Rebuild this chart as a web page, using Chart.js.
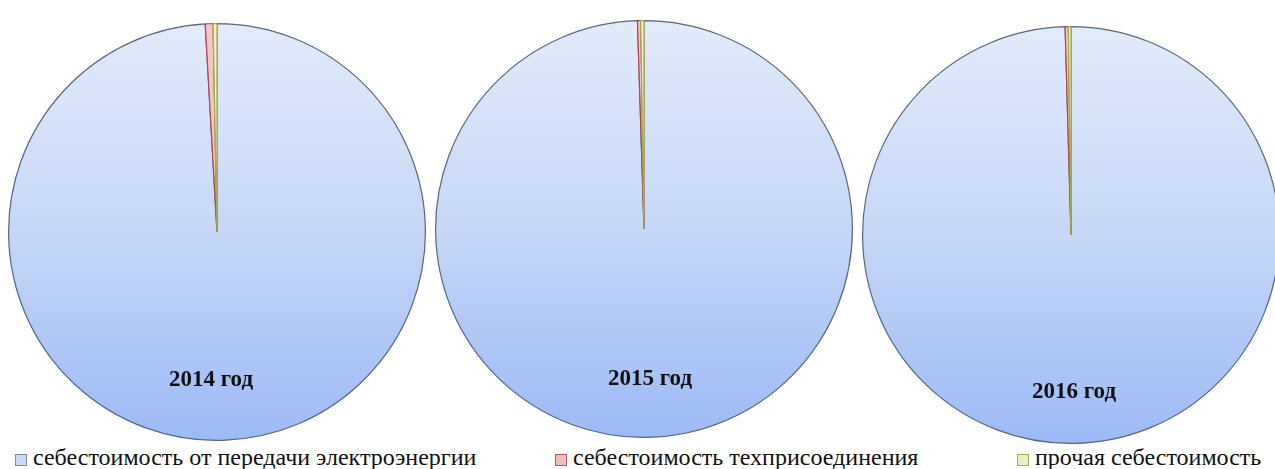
<!DOCTYPE html>
<html>
<head>
<meta charset="utf-8">
<script src="https://cdn.jsdelivr.net/npm/chart.js@4/dist/chart.umd.min.js"></script>
<style>
  html, body { margin:0; padding:0; background:#fff; width:1275px; height:469px; overflow:hidden; position:relative; }
  .pie { position:absolute; width:418px; height:418px; }
  .year { position:absolute; font-family:"Liberation Serif","Times New Roman",serif; font-weight:bold; font-size:23px; color:#111; transform:translate(-50%,-50%); white-space:nowrap; }
  .leg { position:absolute; top:444px; font-family:"Liberation Serif","Times New Roman",serif; font-size:24px; color:#111; white-space:nowrap; display:flex; align-items:center; }
  .leg i { display:inline-block; width:10px; height:10px; margin-right:6px; margin-top:5px; }
</style>
</head>
<body>
<div class="pie" id="p0" style="left:8px;top:23px;"><canvas id="c0"></canvas></div>
<div class="pie" id="p1" style="left:435px;top:20px;"><canvas id="c1"></canvas></div>
<div class="pie" id="p2" style="left:862px;top:26px;"><canvas id="c2"></canvas></div>
<div id="labels"></div>
<div id="legend"></div>
<script>
const categories = ["себестоимость от передачи электроэнергии", "себестоимость техприсоединения", "прочая себестоимость"];
const years = ["2014 год", "2015 год", "2016 год"];
const values2014 = [99.1, 0.6, 0.3];
const values2015 = [99.5, 0.25, 0.25];
const values2016 = [99.55, 0.25, 0.2];
const seriesValues = [values2014, values2015, values2016];

const fillColors = [null, "#f3c6c6", "#eef3c6"];
const edgeColors = ["#56687f", "#a84848", "#a8ac4a"];
const legendBoxFill = ["#c9d8f3", "#f0bcbc", "#e8f2c0"];
const legendBoxEdge = ["#7d8ea6", "#b06060", "#a0b060"];
const labelPos = [[211, 379], [650, 378], [1074, 391]];
const legendX = [15, 555, 1017];

function blueGradient(ctx) {
  const chart = ctx.chart;
  const a = chart.chartArea;
  if (!a) return "#c4d6f7";
  const g = chart.ctx.createLinearGradient(0, a.top, 0, a.bottom);
  g.addColorStop(0, "#e3ebfa");
  g.addColorStop(0.5, "#c6d7f7");
  g.addColorStop(1, "#9cbaf5");
  return g;
}

seriesValues.forEach((vals, i) => {
  new Chart(document.getElementById("c" + i), {
    type: "pie",
    data: {
      labels: categories,
      datasets: [{
        data: vals,
        backgroundColor: (ctx) => ctx.dataIndex === 0 ? blueGradient(ctx) : fillColors[ctx.dataIndex],
        borderColor: edgeColors,
        borderWidth: 1.2
      }]
    },
    options: {
      responsive: true,
      maintainAspectRatio: false,
      animation: false,
      layout: { padding: 0 },
      plugins: { legend: { display: false }, tooltip: { enabled: false } }
    }
  });
  const d = document.createElement("div");
  d.className = "year";
  d.textContent = years[i];
  d.style.left = labelPos[i][0] + "px";
  d.style.top = labelPos[i][1] + "px";
  document.getElementById("labels").appendChild(d);
});

categories.forEach((c, i) => {
  const d = document.createElement("div");
  d.className = "leg";
  d.style.left = legendX[i] + "px";
  d.innerHTML = '<i style="background:' + legendBoxFill[i] + ';border:1px solid ' + legendBoxEdge[i] + '"></i>';
  d.appendChild(document.createTextNode(c));
  document.getElementById("legend").appendChild(d);
});
</script>
</body>
</html>
